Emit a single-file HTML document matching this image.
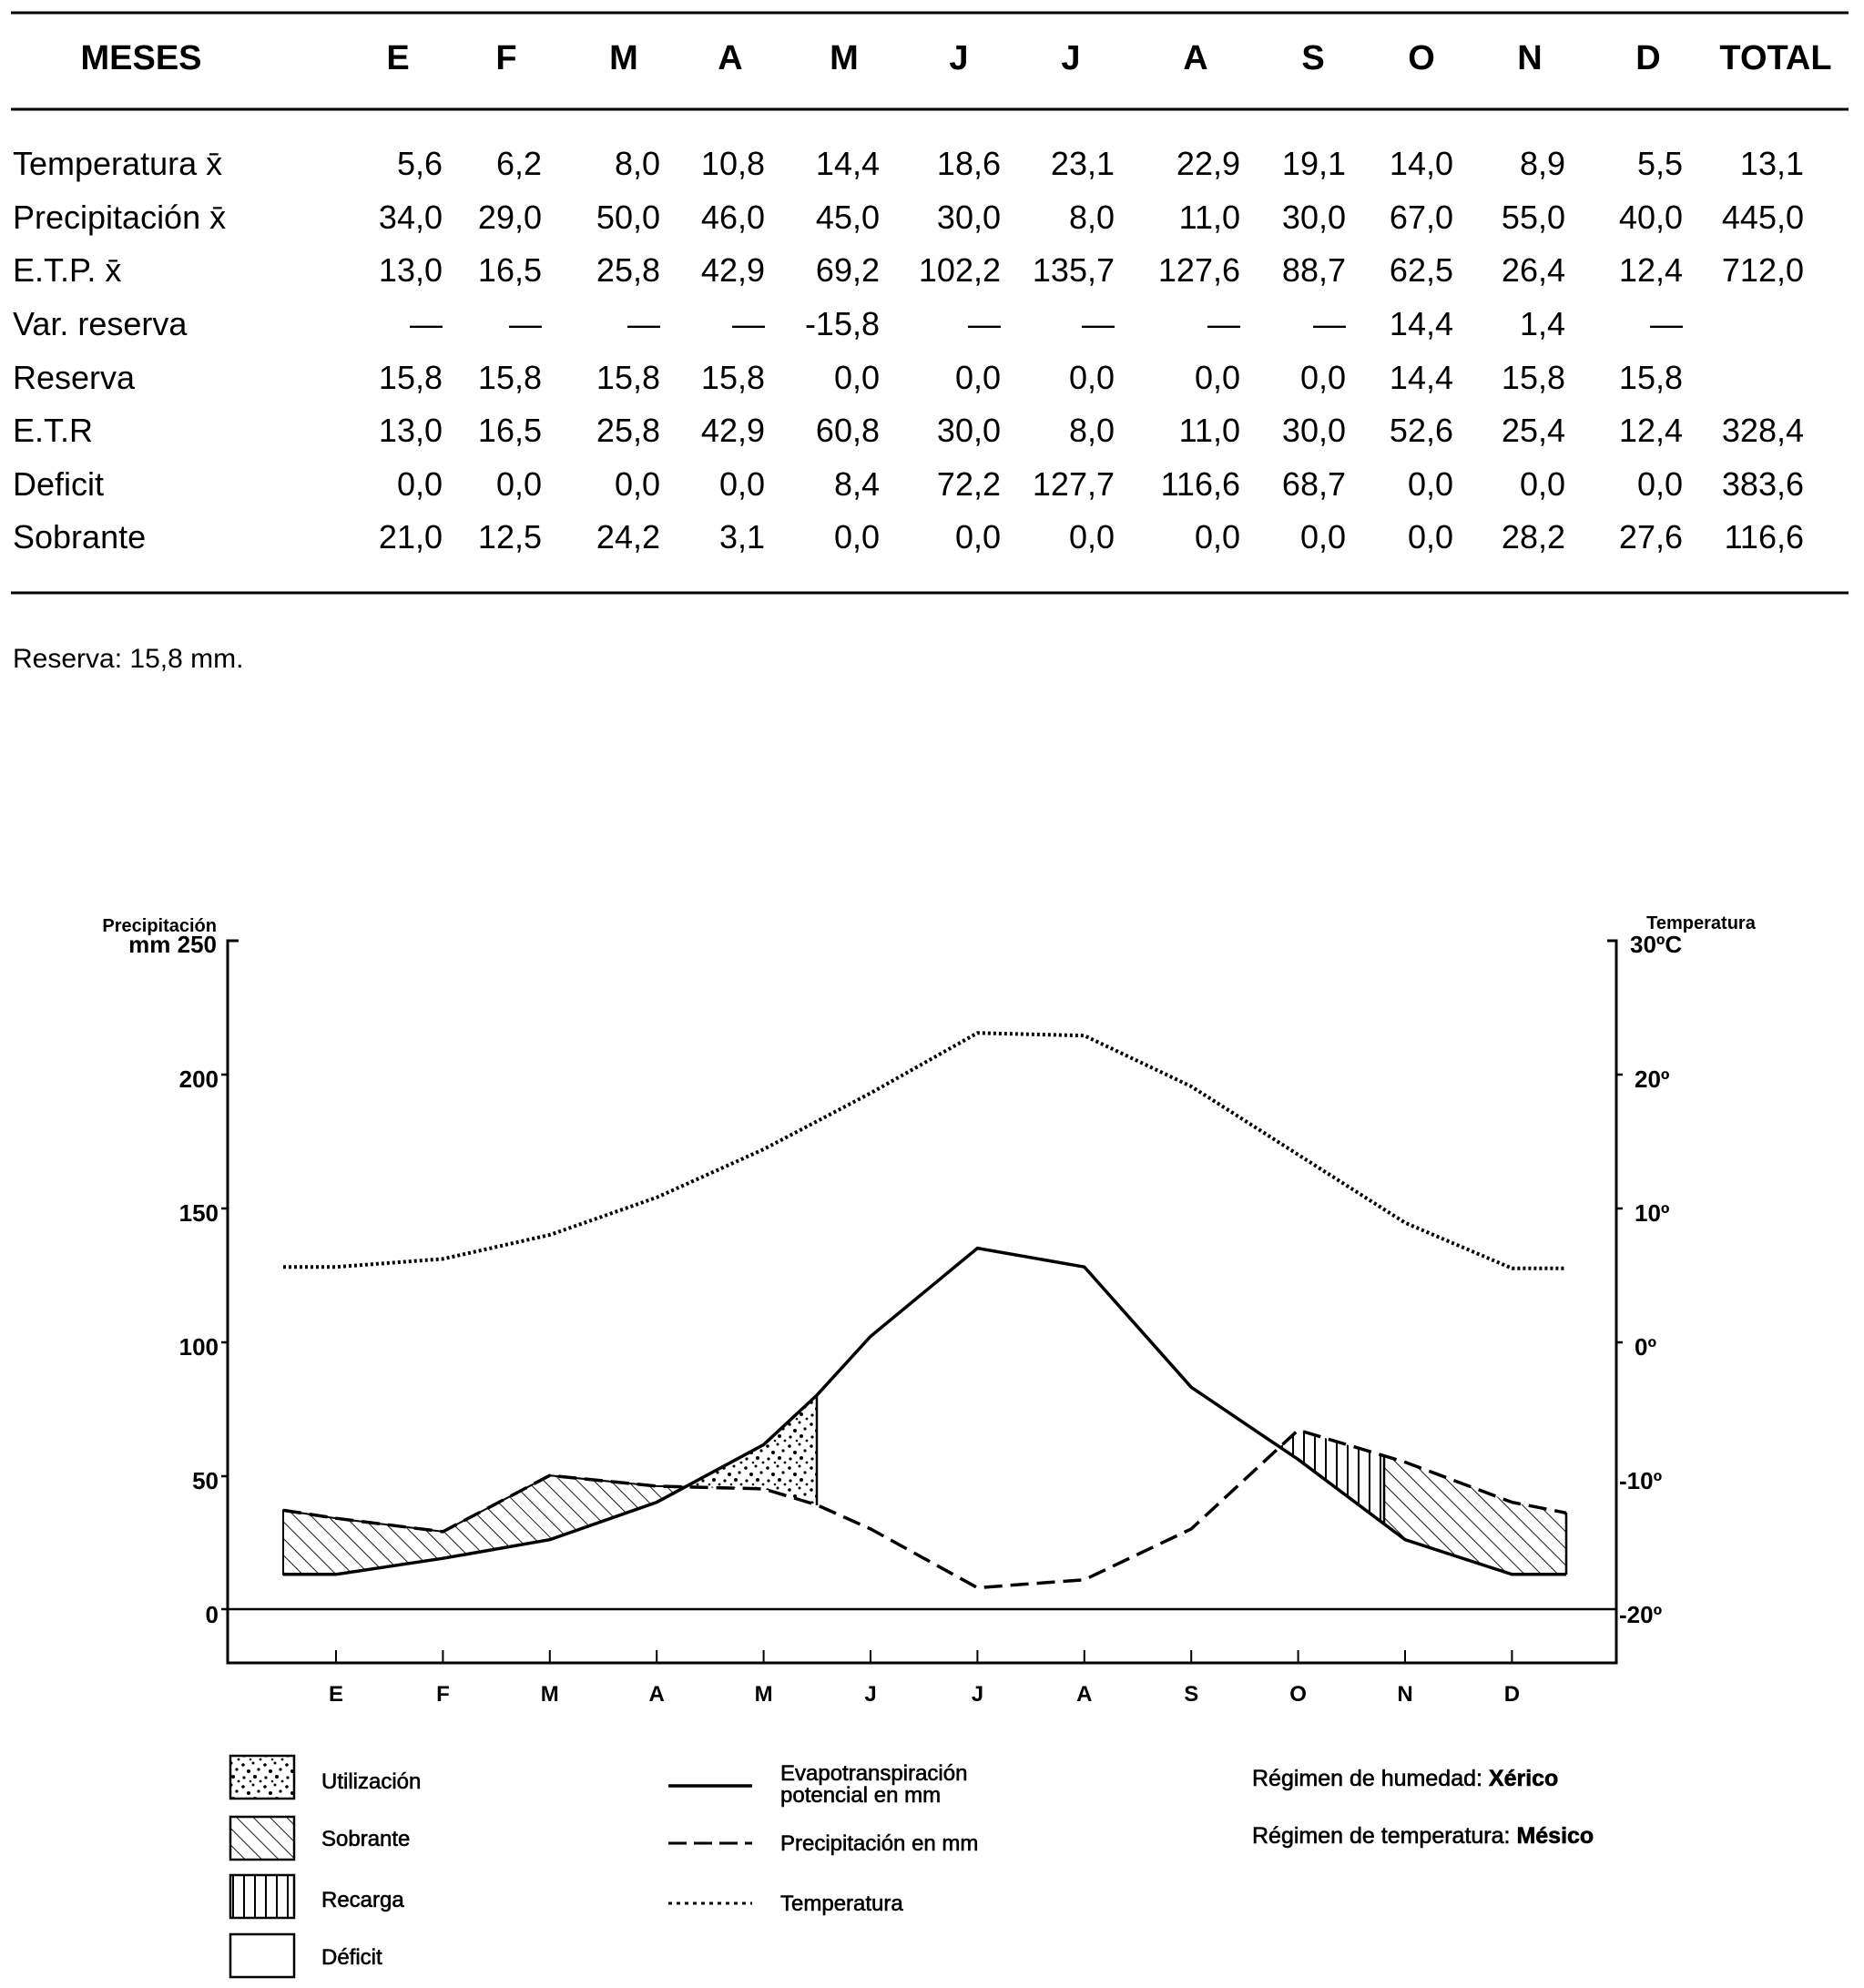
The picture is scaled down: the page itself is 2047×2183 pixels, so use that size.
<!DOCTYPE html>
<html><head><meta charset="utf-8"><style>
html,body{margin:0;padding:0;background:#fff}
svg{display:block}
text{font-family:"Liberation Sans",sans-serif;fill:#000}
</style></head><body>
<svg width="2047" height="2183" viewBox="0 0 2047 2183" xmlns="http://www.w3.org/2000/svg">
<defs>
<pattern id="hatch" patternUnits="userSpaceOnUse" width="13" height="13" patternTransform="rotate(-45)">
<line x1="0" y1="0" x2="0" y2="13" stroke="#000" stroke-width="1.8"/>
</pattern>
<pattern id="vert" patternUnits="userSpaceOnUse" width="12" height="12">
<line x1="4" y1="0" x2="4" y2="12" stroke="#000" stroke-width="2"/>
</pattern>
<pattern id="dots" patternUnits="userSpaceOnUse" width="24" height="24">
<circle cx="3" cy="4" r="1.8"/><circle cx="14" cy="2" r="1.5"/><circle cx="9" cy="11" r="2"/><circle cx="20" cy="9" r="1.6"/><circle cx="4" cy="18" r="1.6"/><circle cx="16" cy="17" r="2"/><circle cx="22" cy="22" r="1.4"/><circle cx="11" cy="22" r="1.3"/>
</pattern>
</defs>

<!-- TABLE -->
<g stroke="#000" stroke-width="3">
<line x1="12" y1="14" x2="2030" y2="14"/>
<line x1="12" y1="120" x2="2030" y2="120"/>
<line x1="12" y1="651" x2="2030" y2="651"/>
</g>
<g font-weight="bold" font-size="38" text-anchor="middle">
<text x="155" y="76">MESES</text>
<text x="437" y="76">E</text><text x="556" y="76">F</text><text x="685" y="76">M</text><text x="802" y="76">A</text><text x="927" y="76">M</text><text x="1053" y="76">J</text><text x="1176" y="76">J</text><text x="1313" y="76">A</text><text x="1442" y="76">S</text><text x="1561" y="76">O</text><text x="1680" y="76">N</text><text x="1810" y="76">D</text><text x="1950" y="76">TOTAL</text>
</g>
<g font-size="36">
<text x="14" y="192">Temperatura x̄</text>
<text x="14" y="251">Precipitación x̄</text>
<text x="14" y="309">E.T.P. x̄</text>
<text x="14" y="368">Var. reserva</text>
<text x="14" y="427">Reserva</text>
<text x="14" y="485">E.T.R</text>
<text x="14" y="544">Deficit</text>
<text x="14" y="602">Sobrante</text>
</g>
<g font-size="36" text-anchor="end">
<g transform="translate(0,192)"><text x="486">5,6</text><text x="595">6,2</text><text x="725">8,0</text><text x="840">10,8</text><text x="966">14,4</text><text x="1099">18,6</text><text x="1224">23,1</text><text x="1362">22,9</text><text x="1478">19,1</text><text x="1596">14,0</text><text x="1719">8,9</text><text x="1848">5,5</text><text x="1981">13,1</text></g>
<g transform="translate(0,251)"><text x="486">34,0</text><text x="595">29,0</text><text x="725">50,0</text><text x="840">46,0</text><text x="966">45,0</text><text x="1099">30,0</text><text x="1224">8,0</text><text x="1362">11,0</text><text x="1478">30,0</text><text x="1596">67,0</text><text x="1719">55,0</text><text x="1848">40,0</text><text x="1981">445,0</text></g>
<g transform="translate(0,309)"><text x="486">13,0</text><text x="595">16,5</text><text x="725">25,8</text><text x="840">42,9</text><text x="966">69,2</text><text x="1099">102,2</text><text x="1224">135,7</text><text x="1362">127,6</text><text x="1478">88,7</text><text x="1596">62,5</text><text x="1719">26,4</text><text x="1848">12,4</text><text x="1981">712,0</text></g>
<g transform="translate(0,368)"><text x="486">—</text><text x="595">—</text><text x="725">—</text><text x="840">—</text><text x="966">-15,8</text><text x="1099">—</text><text x="1224">—</text><text x="1362">—</text><text x="1478">—</text><text x="1596">14,4</text><text x="1719">1,4</text><text x="1848">—</text></g>
<g transform="translate(0,427)"><text x="486">15,8</text><text x="595">15,8</text><text x="725">15,8</text><text x="840">15,8</text><text x="966">0,0</text><text x="1099">0,0</text><text x="1224">0,0</text><text x="1362">0,0</text><text x="1478">0,0</text><text x="1596">14,4</text><text x="1719">15,8</text><text x="1848">15,8</text></g>
<g transform="translate(0,485)"><text x="486">13,0</text><text x="595">16,5</text><text x="725">25,8</text><text x="840">42,9</text><text x="966">60,8</text><text x="1099">30,0</text><text x="1224">8,0</text><text x="1362">11,0</text><text x="1478">30,0</text><text x="1596">52,6</text><text x="1719">25,4</text><text x="1848">12,4</text><text x="1981">328,4</text></g>
<g transform="translate(0,544)"><text x="486">0,0</text><text x="595">0,0</text><text x="725">0,0</text><text x="840">0,0</text><text x="966">8,4</text><text x="1099">72,2</text><text x="1224">127,7</text><text x="1362">116,6</text><text x="1478">68,7</text><text x="1596">0,0</text><text x="1719">0,0</text><text x="1848">0,0</text><text x="1981">383,6</text></g>
<g transform="translate(0,602)"><text x="486">21,0</text><text x="595">12,5</text><text x="725">24,2</text><text x="840">3,1</text><text x="966">0,0</text><text x="1099">0,0</text><text x="1224">0,0</text><text x="1362">0,0</text><text x="1478">0,0</text><text x="1596">0,0</text><text x="1719">28,2</text><text x="1848">27,6</text><text x="1981">116,6</text></g>
</g>
<text x="14" y="733" font-size="30">Reserva: 15,8 mm.</text>

<!-- CHART -->
<g font-weight="bold">
<text x="238" y="1023" font-size="20" text-anchor="end">Precipitación</text>
<text x="238" y="1046" font-size="26" text-anchor="end">mm 250</text>
<text x="1868" y="1020" font-size="20" text-anchor="middle">Temperatura</text>
<text x="1790" y="1046" font-size="26">30ºC</text>
</g>
<g font-size="26" text-anchor="end" font-weight="bold">
<text x="240" y="1194">200</text>
<text x="240" y="1341">150</text>
<text x="240" y="1488">100</text>
<text x="240" y="1635">50</text>
<text x="240" y="1782">0</text>
</g>
<g font-size="26" font-weight="bold">
<text x="1795" y="1194">20º</text>
<text x="1795" y="1341">10º</text>
<text x="1795" y="1488">0º</text>
<text x="1778" y="1635">-10º</text>
<text x="1778" y="1782">-20º</text>
</g>
<g stroke="#000" fill="none">
<polyline points="262,1033 250,1033 250,1826 1775,1826 1775,1033 1765,1033" stroke-width="3"/>
<line x1="250" y1="1767" x2="1775" y2="1767" stroke-width="2.5"/>
<g stroke-width="2.5">
<line x1="243" y1="1180" x2="250" y2="1180"/><line x1="243" y1="1327" x2="250" y2="1327"/><line x1="243" y1="1474" x2="250" y2="1474"/><line x1="243" y1="1621" x2="250" y2="1621"/><line x1="243" y1="1767" x2="250" y2="1767"/>
<line x1="1775" y1="1180" x2="1782" y2="1180"/><line x1="1775" y1="1327" x2="1782" y2="1327"/><line x1="1775" y1="1474" x2="1782" y2="1474"/>
</g>
<g stroke-width="2">
<line x1="369" y1="1826" x2="369" y2="1812"/><line x1="486.4" y1="1826" x2="486.4" y2="1812"/><line x1="603.8" y1="1826" x2="603.8" y2="1812"/><line x1="721.2" y1="1826" x2="721.2" y2="1812"/><line x1="838.6" y1="1826" x2="838.6" y2="1812"/><line x1="956" y1="1826" x2="956" y2="1812"/><line x1="1073.4" y1="1826" x2="1073.4" y2="1812"/><line x1="1190.8" y1="1826" x2="1190.8" y2="1812"/><line x1="1308.2" y1="1826" x2="1308.2" y2="1812"/><line x1="1425.6" y1="1826" x2="1425.6" y2="1812"/><line x1="1543" y1="1826" x2="1543" y2="1812"/><line x1="1660.4" y1="1826" x2="1660.4" y2="1812"/>
</g>
</g>
<g font-size="24" font-weight="bold" text-anchor="middle">
<text x="369" y="1868">E</text><text x="486.4" y="1868">F</text><text x="603.8" y="1868">M</text><text x="721.2" y="1868">A</text><text x="838.6" y="1868">M</text><text x="956" y="1868">J</text><text x="1073.4" y="1868">J</text><text x="1190.8" y="1868">A</text><text x="1308.2" y="1868">S</text><text x="1425.6" y="1868">O</text><text x="1543" y="1868">N</text><text x="1660.4" y="1868">D</text>
</g>

<!-- fills -->
<polygon fill="url(#hatch)" stroke="#000" stroke-width="2" points="311,1658.4 369,1667.2 486.4,1681.9 603.8,1620.2 721.2,1631.9 752.6,1632.7 721.2,1649.6 603.8,1690.7 486.4,1711.2 369,1728.8 311,1728.8"/>
<polygon fill="url(#dots)" stroke="none" points="752.6,1632.7 838.6,1586.4 897,1532.1 897,1652.5 838.6,1634.9"/>
<line x1="897" y1="1532" x2="897" y2="1653" stroke="#000" stroke-width="2.5"/>
<polygon fill="url(#vert)" stroke="none" points="1405.4,1589 1425.6,1570.3 1520,1598.6 1520,1673.4"/>
<polygon fill="url(#hatch)" stroke="none" points="1520,1598.6 1543,1605.5 1660.4,1649.6 1720,1661.3 1720,1728.8 1660.4,1728.8 1543,1690.7 1520,1673.4"/>
<line x1="1520" y1="1598" x2="1520" y2="1674" stroke="#000" stroke-width="2.5"/>
<line x1="1720" y1="1661" x2="1720" y2="1729" stroke="#000" stroke-width="2.5"/>

<!-- series -->
<polyline fill="none" stroke="#000" stroke-width="3.5" points="311,1728.8 369,1728.8 486.4,1711.2 603.8,1690.7 721.2,1649.6 838.6,1586.4 897,1532.1 956,1467.5 1073.4,1370.6 1190.8,1391.2 1308.2,1523.3 1425.6,1602.6 1543,1690.7 1660.4,1728.8 1720,1728.8"/>
<polyline fill="none" stroke="#000" stroke-width="3.5" stroke-dasharray="20,9" points="311,1658.4 369,1667.2 486.4,1681.9 603.8,1620.2 721.2,1631.9 838.6,1634.9 897,1652.5 956,1678.9 1073.4,1743.5 1190.8,1734.7 1308.2,1678.9 1425.6,1570.3 1543,1605.5 1660.4,1649.6 1720,1661.3"/>
<polyline fill="none" stroke="#000" stroke-width="4" stroke-dasharray="3,3" points="311,1391.2 369,1391.2 486.4,1382.4 603.8,1356 721.2,1314.9 838.6,1262 956,1200.4 1073.4,1134.3 1190.8,1137.2 1308.2,1193 1425.6,1267.9 1543,1342.7 1660.4,1392.7 1720,1392.7"/>

<!-- legend -->
<g transform="translate(0,-10)">
<g stroke="#000" stroke-width="2.5">
<rect x="253" y="1938" width="70" height="47" fill="url(#dots)"/>
<rect x="253" y="2005" width="70" height="47" fill="url(#hatch)"/>
<rect x="253" y="2069" width="70" height="47" fill="url(#vert)"/>
<rect x="253" y="2134" width="70" height="47" fill="#fff"/>
<line x1="734" y1="1971" x2="826" y2="1971" stroke-width="3.5"/>
<line x1="734" y1="2034" x2="826" y2="2034" stroke-width="3" stroke-dasharray="20,8"/>
<line x1="734" y1="2100" x2="826" y2="2100" stroke-width="3" stroke-dasharray="4,5"/>
</g>
<g font-size="24" stroke="#000" stroke-width="0.6">
<text x="353" y="1974">Utilización</text>
<text x="353" y="2037">Sobrante</text>
<text x="353" y="2104">Recarga</text>
<text x="353" y="2167">Déficit</text>
<text x="857" y="1965">Evapotranspiración</text>
<text x="857" y="1989">potencial en mm</text>
<text x="857" y="2042">Precipitación en mm</text>
<text x="857" y="2108">Temperatura</text>
<text x="1375" y="1971" font-size="25">Régimen de humedad:  <tspan font-weight="bold">Xérico</tspan></text>
<text x="1375" y="2034" font-size="25">Régimen de temperatura:  <tspan font-weight="bold">Mésico</tspan></text>
</g>
</g>
</svg>
</body></html>
